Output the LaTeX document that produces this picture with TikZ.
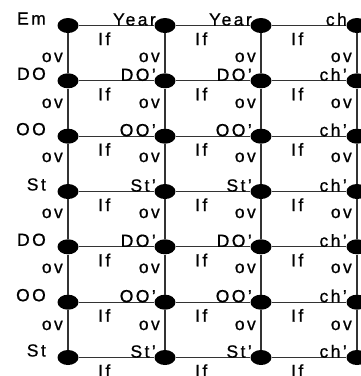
\documentclass[tikz,border=0pt]{standalone}
\usepackage{fontspec}
\setmainfont{Liberation Sans}[LetterSpace=14,FakeBold=0.8]
\usetikzlibrary{shapes.geometric}
\newcommand\lblfont{\fontsize{17.5}{20}\selectfont}
\begin{document}
\begin{tikzpicture}[x=1pt,y=-1pt,
  dot/.style={ellipse, fill=black, minimum width=21pt, minimum height=15pt, inner sep=0pt},
  ln/.style={draw=black!80, line width=1.2pt},
  namelab/.style={anchor=base east, inner sep=0pt, font=\lblfont},
  iflab/.style={anchor=base west, inner sep=0pt, font=\lblfont},
  ovlab/.style={anchor=base east, inner sep=0pt, font=\lblfont}]
\useasboundingbox (0,0) rectangle (361,376);
% dots
\foreach \r/\y in {1/25.5,2/80.8,3/136.2,4/191.5,5/246.8,6/302.2,7/357.5}{
  \foreach \c/\x in {1/68,2/165,3/261,4/357}{
    \node[dot] (n\r\c) at (\x,\y) {};
  }
  \coordinate (e\r) at (372,\y);
}
% connectors
\foreach \r in {1,...,7}{
  \draw[ln] (n\r1) -- (n\r2);
  \draw[ln] (n\r2) -- (n\r3);
  \draw[ln] (n\r3) -- (n\r4);
  \draw[ln] (n\r4) -- (e\r);
}
\foreach \r [evaluate=\r as \s using int(\r+1)] in {1,...,6}{
  \foreach \c in {1,...,4}{
    \draw[ln] (n\r\c) -- (n\s\c);
  }
}
% left names
\foreach \r/\y/\t in {1/25.5/Em,2/80.8/DO,3/136.2/OO,4/191.5/St,5/246.8/DO,6/302.2/OO,7/357.5/St}{
  \node[namelab] (L\r) at (46,\y-1) {\t};
}
% column names
\foreach \r/\y/\t/\u in {1/25.5/Year/ch,2/80.8/DO’/ch’,3/136.2/OO’/ch’,4/191.5/St’/ch’,5/246.8/DO’/ch’,6/302.2/OO’/ch’,7/357.5/St’/ch’}{
  \node[namelab] (A\r) at (156,\y) {\t};
  \node[namelab] (B\r) at (252,\y) {\t};
  \node[namelab] (C\r) at (347,\y) {\u};
}
% If labels
\foreach \r/\y in {1/25.5,2/80.8,3/136.2,4/191.5,5/246.8,6/302.2,7/357.5}{
  \foreach \c/\x in {1/68,2/165,3/261}{
    \node[iflab] (I\r\c) at (\x+30,\y+19.5) {If};
  }
}
% ov labels
\foreach \r/\y in {1/62,2/108,3/162,4/218,5/273,6/330}{
  \foreach \c/\x in {1/68,2/165,3/261,4/357}{
    \node[ovlab] (O\r\c) at (\x-5,\y) {ov};
  }
}
\end{tikzpicture}
\end{document}
